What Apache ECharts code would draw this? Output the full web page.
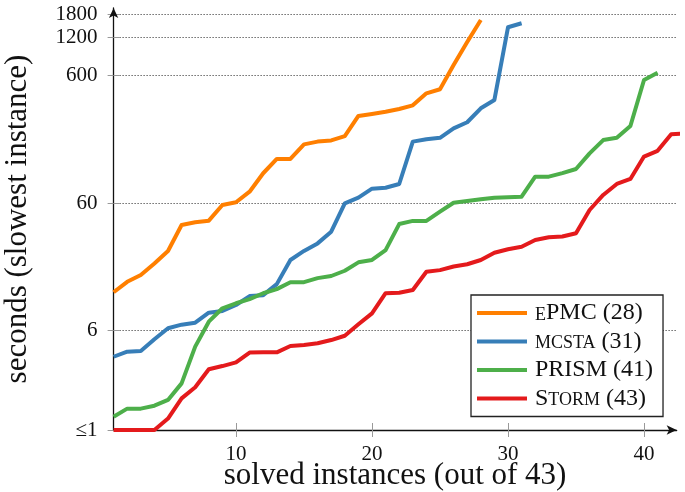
<!DOCTYPE html>
<html>
<head>
<meta charset="utf-8">
<script src="https://cdn.jsdelivr.net/npm/echarts@6/dist/echarts.min.js"></script>
<style>html,body{margin:0;padding:0;background:#fff}#c{width:685px;height:492px}</style>
</head>
<body>
<div id="c"></div>
<script>
// ---- data (seconds of slowest solved instance, per number of solved instances) ----
const seriesNames = ['ePMC', 'mcsta', 'PRISM', 'Storm'];
const epmc = [12.0, 14.5, 16.4, 20.2, 25.3, 40.4, 42.4, 43.7, 58.0, 60.9, 73.7, 102.8, 133, 133, 173, 182, 186, 201, 289, 300, 312, 328, 350, 435, 468, 725, 1099, 1633];
const mcsta = [3.75, 4.11, 4.16, 5.14, 6.27, 6.69, 6.93, 8.30, 8.56, 9.54, 11.2, 11.4, 13.9, 21.5, 25.3, 29.0, 35.8, 59.8, 66.2, 77.8, 79.2, 84.7, 182, 190, 195, 231, 258, 332, 386, 1432, 1539];
const prism = [1.27, 1.47, 1.47, 1.55, 1.72, 2.32, 4.50, 7.06, 8.99, 9.84, 10.6, 11.8, 12.7, 14.4, 14.4, 15.5, 16.1, 17.7, 20.6, 21.5, 25.7, 41.1, 43.5, 43.5, 51.4, 60.4, 62.3, 64.3, 66.2, 66.8, 67.4, 96.7, 96.7, 103, 111, 147, 187, 195, 241, 553, 631];
const storm = [1, 1, 1, 1, 1.23, 1.77, 2.16, 2.99, 3.17, 3.39, 4.04, 4.06, 4.06, 4.55, 4.64, 4.78, 5.07, 5.48, 6.73, 8.21, 11.8, 11.9, 12.5, 17.4, 17.9, 19.1, 19.9, 21.5, 24.5, 26.1, 27.3, 30.8, 32.4, 32.8, 34.8, 53.0, 69.5, 84.7, 92.7, 139, 154, 208, 211];
const xTicks = [10, 20, 30, 40];
const yTickValues = [1, 6, 60, 600, 1200, 1800];
const yTickLabels = ['≤1', '6', '60', '600', '1200', '1800'];
const colors = ['#ff7f00', '#377eb8', '#4daf4a', '#e41a1c'];

const allData = [epmc, mcsta, prism, storm];
const FONT = 'Liberation Serif';
const yMaxLog = 3.307;
const xMin = 1, xMax = 42.4;
const yTickLogs = yTickValues.map(v => Math.log10(v));
const legendText = {
  ePMC: '{sc|E}PMC (' + epmc.length + ')',
  mcsta: '{sc|MCSTA} (' + mcsta.length + ')',
  PRISM: 'PRISM (' + prism.length + ')',
  Storm: 'S{sc|TORM} (' + storm.length + ')'
};
function yLabel(v) {
  let best = 0, d = Infinity;
  yTickLogs.forEach((t, i) => { const dd = Math.abs(t - v); if (dd < d) { d = dd; best = i; } });
  return yTickLabels[best];
}

const chart = echarts.init(document.getElementById('c'), null, { renderer: 'canvas' });
chart.setOption({
  animation: false,
  backgroundColor: '#fff',
  grid: { left: 113.6, right: 8.36, top: 8, bottom: 62, containLabel: false, outerBoundsMode: 'none' },
  xAxis: [{
    type: 'value', min: xMin, max: xMax,
    name: 'solved instances (out of 43)', nameLocation: 'middle', nameGap: 30, nameMoveOverlap: false,
    nameTextStyle: { fontFamily: FONT, fontSize: 31, color: '#111' },
    axisLine: { show: true, lineStyle: { color: '#111', width: 1.3 }, symbol: ['none', 'arrow'], symbolSize: [7, 10] },
    axisTick: { show: true, length: 7, lineStyle: { color: '#999', width: 1 }, customValues: xTicks },
    axisLabel: { fontFamily: FONT, fontSize: 21, color: '#111', margin: 14, customValues: xTicks, hideOverlap: false },
    splitLine: { show: false }
  }, {
    type: 'value', min: xMin, max: xMax, position: 'bottom', gridIndex: 0,
    axisLine: { show: false },
    axisTick: { show: true, inside: true, length: 7, lineStyle: { color: '#999', width: 1 }, customValues: xTicks },
    axisLabel: { show: false },
    splitLine: { show: false }
  }],
  yAxis: [{
    type: 'value', min: 0, max: yMaxLog,
    name: 'seconds (slowest instance)', nameLocation: 'middle', nameGap: 80, nameMoveOverlap: false,
    nameTextStyle: { fontFamily: FONT, fontSize: 31, color: '#111' },
    axisLine: { show: true, lineStyle: { color: '#111', width: 1.3 }, symbol: ['none', 'arrow'], symbolSize: [7, 10] },
    axisTick: { show: true, length: 6, lineStyle: { color: '#999', width: 1 }, customValues: yTickLogs },
    axisLabel: { fontFamily: FONT, fontSize: 21, lineHeight: 18, color: '#111', margin: 16, customValues: yTickLogs, formatter: yLabel, hideOverlap: false },
    splitLine: { show: true, lineStyle: { color: '#222', width: 1, type: [1, 2] } }
  }, {
    type: 'value', min: 0, max: yMaxLog, position: 'left', gridIndex: 0,
    axisLine: { show: false },
    axisTick: { show: true, inside: true, length: 6, lineStyle: { color: '#999', width: 1 }, customValues: yTickLogs },
    axisLabel: { show: false },
    splitLine: { show: false }
  }],
  legend: {
    orient: 'vertical', left: 471, top: 295,
    padding: [6, 10, 6, 6], itemGap: 4.5, itemWidth: 50, itemHeight: 4, icon: 'rect',
    borderColor: '#222', borderWidth: 1.3, borderRadius: 0, backgroundColor: '#fff',
    data: seriesNames,
    formatter: name => legendText[name],
    textStyle: {
      fontFamily: FONT, fontSize: 24, color: '#111', padding: [0, 0, 0, 3],
      rich: { sc: { fontFamily: FONT, fontSize: 18, color: '#111', verticalAlign: 'bottom', padding: [0, 0, 1, 0] } }
    }
  },
  series: allData.map((arr, k) => ({
    name: seriesNames[k], type: 'line', xAxisIndex: 0, yAxisIndex: 0,
    data: arr.map((v, i) => [i + 1, Math.log10(v)]),
    showSymbol: false, symbol: 'none', clip: false,
    lineStyle: { color: colors[k], width: 4, join: 'round', cap: 'butt' },
    itemStyle: { color: colors[k] },
    z: 2 + k
  }))
});
</script>
</body>
</html>
